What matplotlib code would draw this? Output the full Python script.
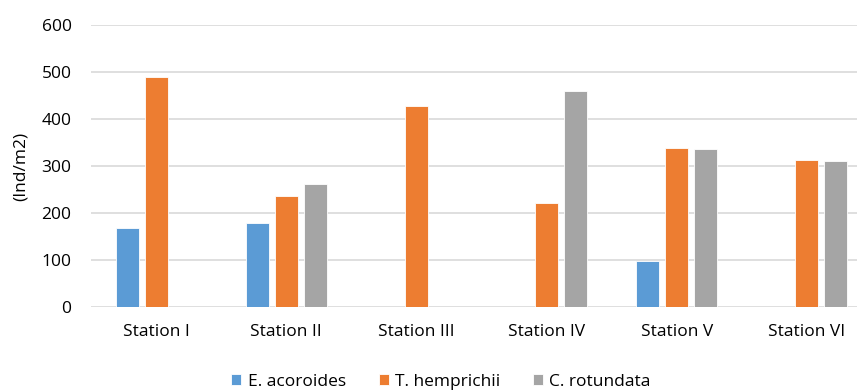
import matplotlib.pyplot as plt
import numpy as np

stations = ['Station I', 'Station II', 'Station III', 'Station IV', 'Station V', 'Station VI']
species = ['E. acoroides', 'T. hemprichii', 'C. rotundata']
e_acoroides = [169, 178, 0, 0, 97, 0]
t_hemprichii = [490, 236, 427, 221, 338, 312]
c_rotundata = [0, 262, 0, 460, 336, 310]
colors = ['#5B9BD5', '#ED7D31', '#A5A5A5']

plt.rcParams['font.family'] = ['Open Sans', 'DejaVu Sans']
fs = 12.5

fig = plt.figure(figsize=(8.57, 3.91), dpi=100)
# plot area runs a little past the right edge of the figure
ax = fig.add_axes([91 / 857, 1 - 307 / 391, 781 / 857, 282 / 391])

x = np.arange(len(stations))
width = 0.177
step = 0.223
for i, (vals, name) in enumerate(zip([e_acoroides, t_hemprichii, c_rotundata], species)):
    ax.bar(x + (i - 1) * step, vals, width, color=colors[i], label=name,
           edgecolor='white', linewidth=0.6, zorder=3)

ax.set_xlim(-0.5, len(stations) - 0.5)
ax.set_ylim(0, 600)
ax.set_yticks(range(0, 601, 100))
ax.set_xticks(x)
ax.set_xticklabels(stations)
ax.grid(axis='y', color='#D9D9D9', linewidth=1.2, zorder=0)
for s in ax.spines.values():
    s.set_visible(False)
ax.tick_params(axis='both', length=0, labelsize=fs, colors='#000000')
ax.tick_params(axis='y', pad=14)
ax.tick_params(axis='x', pad=12)
ax.set_ylabel('(Ind/m2)', fontsize=fs, labelpad=9)

fig.legend(loc='center', bbox_to_anchor=(441 / 857, 1 - 382 / 391), ncol=3,
           frameon=False, fontsize=fs, handlelength=0.58, handleheight=0.58,
           handletextpad=0.35, columnspacing=1.9)

fig.savefig('out.png', dpi=100)
